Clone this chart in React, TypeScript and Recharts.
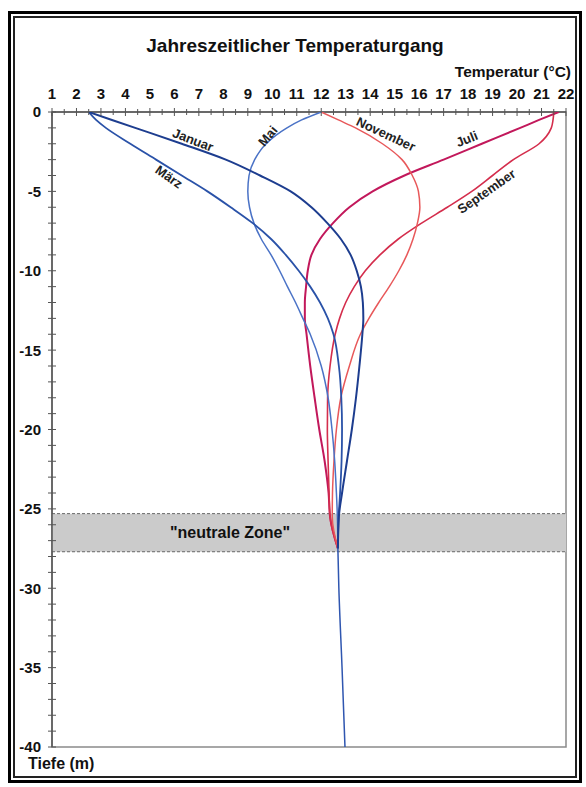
import React from "react";
import {
  ScatterChart,
  Scatter,
  XAxis,
  YAxis,
  ReferenceArea,
  ReferenceLine,
} from "recharts";

// depth grid (m) shared by the monthly profiles, temperatures in °C
const depths = [0, -0.5, -1, -2, -3, -4, -5, -6, -7, -8, -9, -10, -11, -12, -13, -14, -16, -18, -20, -22, -24, -25.5, -27.5];
const januar = [2.5, 3.45, 4.4, 6.3, 8.1, 9.5, 10.75, 11.6, 12.25, 12.8, 13.2, 13.45, 13.62, 13.7, 13.72, 13.68, 13.56, 13.42, 13.25, 13.05, 12.85, 12.72, 12.68];
const maerz = [2.5, 2.8, 3.2, 4.2, 5.25, 6.3, 7.35, 8.3, 9.2, 9.95, 10.55, 11.08, 11.55, 11.95, 12.27, 12.5, 12.72, 12.82, 12.85, 12.83, 12.77, 12.71, 12.68];
const mai = [12.0, 11.2, 10.6, 9.75, 9.28, 9.05, 9.0, 9.07, 9.25, 9.55, 9.95, 10.3, 10.62, 10.95, 11.25, 11.55, 12.0, 12.28, 12.44, 12.55, 12.62, 12.66, 12.68];
const juli = [21.7, 20.9, 20.13, 18.56, 17.0, 15.4, 14.1, 13.15, 12.48, 11.95, 11.6, 11.45, 11.38, 11.33, 11.33, 11.4, 11.55, 11.73, 11.92, 12.14, 12.3, 12.36, 12.68];
const september = [21.5, 21.47, 21.4, 20.9, 19.85, 19.0, 18.15, 17.15, 16.1, 15.15, 14.4, 13.8, 13.35, 13.0, 12.75, 12.57, 12.36, 12.26, 12.25, 12.28, 12.32, 12.36, 12.68];
const november = [12.0, 12.7, 13.4, 14.5, 15.3, 15.72, 15.97, 16.03, 15.93, 15.75, 15.5, 15.17, 14.78, 14.35, 13.95, 13.6, 13.15, 12.8, 12.62, 12.52, 12.46, 12.45, 12.68];

// below the neutral zone all months share one profile
const tailDepths = [-27.5, -30, -35, -40];
const tailTemps = [12.68, 12.72, 12.85, 12.97];

const neutralTop = -25.3;
const neutralBottom = -27.7;

const xTicks = Array.from({ length: 43 }, (_, i) => 1 + i * 0.5);
const yTicks = Array.from({ length: 41 }, (_, i) => -i);

// curve names written along the lines
const curveLabels = [
  { name: "Januar", t: 6.76, d: -1.76, angle: 21 },
  { name: "März", t: 5.78, d: -4.09, angle: 35 },
  { name: "Mai", t: 9.82, d: -1.51, angle: -50 },
  { name: "November", t: 14.64, d: -1.39, angle: 25 },
  { name: "Juli", t: 17.95, d: -1.7, angle: -22 },
  { name: "September", t: 18.75, d: -5.0, angle: -35 },
];

const toPoints = (temps: number[], ds: number[]) =>
  temps.map((t, i) => ({ t, d: ds[i] }));

const series = [
  { name: "Juli", temps: juli, color: "#c2185b", width: 2 },
  { name: "September", temps: september, color: "#d42d4c", width: 1.6 },
  { name: "November", temps: november, color: "#e8585a", width: 1.5 },
  { name: "Mai", temps: mai, color: "#4a72c6", width: 1.5 },
  { name: "März", temps: maerz, color: "#2a52a8", width: 1.8 },
  { name: "Januar", temps: januar, color: "#1d3d8f", width: 2 },
];

const FONT = '"Liberation Sans", Arial, sans-serif';

const XTick = (props: any) => {
  const { x, y, payload } = props;
  const v = payload.value;
  const major = Number.isInteger(v);
  const axisY = y + 13;
  const len = major ? 4 : 3;
  return (
    <g>
      <line x1={x} x2={x} y1={axisY - len} y2={axisY + len} stroke="#555" />
      {major && (
        <text x={x} y={y} textAnchor="middle" fontSize={15} fontWeight="bold" fontFamily={FONT} fill="#111">
          {v}
        </text>
      )}
    </g>
  );
};

const YTick = (props: any) => {
  const { x, y, payload } = props;
  const v = payload.value;
  const major = v % 5 === 0;
  const axisX = x + 11;
  return (
    <g>
      <line x1={axisX - 4} x2={axisX + 4} y1={y} y2={y} stroke="#555" />
      {major && (
        <text x={x} y={y} dy="0.36em" textAnchor="end" fontSize={15} fontWeight="bold" fontFamily={FONT} fill="#111">
          {v}
        </text>
      )}
    </g>
  );
};

const CurveLabel = (props: any) => {
  const { cx, cy, payload } = props;
  return (
    <text
      x={cx}
      y={cy}
      transform={`rotate(${payload.angle} ${cx} ${cy})`}
      textAnchor="middle"
      dominantBaseline="central"
      fontSize={13}
      fontWeight="bold"
      fontFamily={FONT}
      fill="#222"
    >
      {payload.name}
    </text>
  );
};

const NoDot = () => <g />;

export default function App() {
  return (
    <div
      style={{
        position: "absolute",
        left: 8,
        top: 11,
        width: 574,
        height: 772,
        boxSizing: "border-box",
        border: "3px solid #000",
        background: "#fff",
        fontFamily: FONT,
      }}
    >
      <div
        style={{
          position: "absolute",
          left: 2,
          top: 2,
          width: 564,
          height: 762,
          boxSizing: "border-box",
          border: "2px solid #222",
        }}
      >
        <div
          style={{
            position: "absolute",
            left: 0,
            width: 560,
            top: 18,
            textAlign: "center",
            fontSize: 19,
            lineHeight: "19px",
            fontWeight: "bold",
            color: "#111",
          }}
        >
          Jahreszeitlicher Temperaturgang
        </div>
        <div
          style={{
            position: "absolute",
            right: 4,
            top: 46,
            fontSize: 15.5,
            lineHeight: "15.5px",
            fontWeight: "bold",
            color: "#111",
          }}
        >
          Temperatur (°C)
        </div>
        <div
          style={{
            position: "absolute",
            left: 13,
            top: 738,
            fontSize: 16,
            lineHeight: "16px",
            fontWeight: "bold",
            color: "#111",
          }}
        >
          Tiefe (m)
        </div>
        <ScatterChart
          width={560}
          height={758}
          margin={{ top: 64, right: 9, bottom: 29, left: 0 }}
        >
          <XAxis
            type="number"
            dataKey="t"
            orientation="top"
            domain={[1, 22]}
            ticks={xTicks}
            interval={0}
            height={30}
            tickSize={4}
            tickMargin={9}
            tickLine={false}
            tick={<XTick />}
            axisLine={{ stroke: "#555", strokeWidth: 1.5 }}
            allowDataOverflow
          />
          <YAxis
            type="number"
            dataKey="d"
            domain={[-40, 0]}
            ticks={yTicks}
            interval={0}
            width={37}
            tickSize={4}
            tickMargin={7}
            tickLine={false}
            tick={<YTick />}
            axisLine={{ stroke: "#555", strokeWidth: 1.5 }}
            allowDataOverflow
          />
          <ReferenceArea
            x1={1}
            x2={22}
            y1={-40}
            y2={0}
            fill="none"
            stroke="#8a8a8a"
            strokeWidth={1.5}
          />
          <ReferenceArea
            y1={neutralBottom}
            y2={neutralTop}
            fill="#cbcbcb"
            fillOpacity={1}
            label={{
              value: '"neutrale Zone"',
              position: "insideLeft",
              offset: 118,
              fontSize: 16,
              fontWeight: "bold",
              fontFamily: FONT,
              fill: "#111",
            }}
          />
          <ReferenceLine y={neutralTop} stroke="#666" strokeDasharray="3 2" />
          <ReferenceLine y={neutralBottom} stroke="#666" strokeDasharray="3 2" />
          {series.map((s) => (
            <Scatter
              key={s.name}
              name={s.name}
              data={toPoints(s.temps, depths)}
              fill={s.color}
              line={{ stroke: s.color, strokeWidth: s.width }}
              lineJointType="monotoneY"
              shape={NoDot}
              isAnimationActive={false}
            />
          ))}
          <Scatter
            name="tail"
            data={toPoints(tailTemps, tailDepths)}
            fill="#2f56b0"
            line={{ stroke: "#2f56b0", strokeWidth: 1.5 }}
            lineJointType="monotoneY"
            shape={NoDot}
            isAnimationActive={false}
          />
          <Scatter
            name="labels"
            data={curveLabels}
            fill="#222"
            shape={CurveLabel}
            isAnimationActive={false}
          />
        </ScatterChart>
      </div>
    </div>
  );
}
